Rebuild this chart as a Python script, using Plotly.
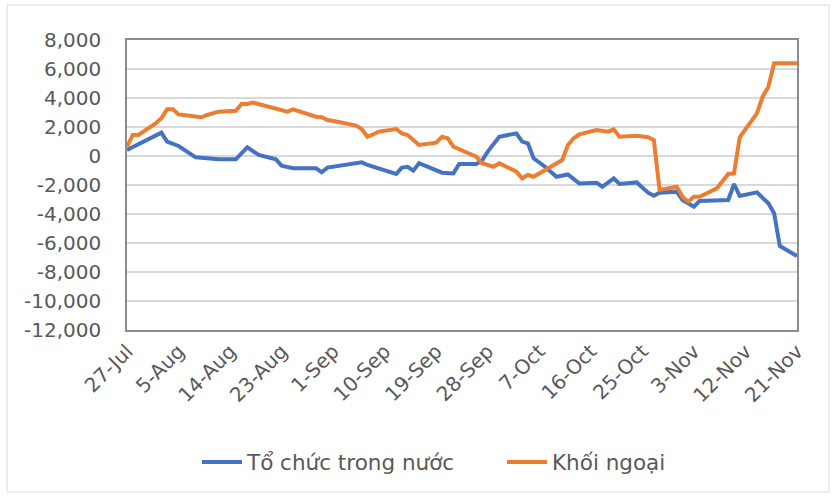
import plotly.graph_objects as go

# Domestic institutions (Tổ chức trong nước)
dates_domestic = [
    "2022-07-27", "2022-08-02", "2022-08-03", "2022-08-05", "2022-08-08", "2022-08-12",
    "2022-08-15", "2022-08-17", "2022-08-19", "2022-08-22", "2022-08-23", "2022-08-25",
    "2022-08-29", "2022-08-30", "2022-08-31", "2022-09-02", "2022-09-05", "2022-09-06",
    "2022-09-07", "2022-09-12", "2022-09-13", "2022-09-14", "2022-09-15", "2022-09-16",
    "2022-09-20", "2022-09-22", "2022-09-23", "2022-09-26", "2022-09-27", "2022-09-28",
    "2022-09-30", "2022-10-03", "2022-10-04", "2022-10-05", "2022-10-06", "2022-10-08",
    "2022-10-10", "2022-10-12", "2022-10-14", "2022-10-17", "2022-10-18", "2022-10-20",
    "2022-10-21", "2022-10-24", "2022-10-26", "2022-10-27", "2022-10-28", "2022-10-31",
    "2022-11-01", "2022-11-03", "2022-11-04", "2022-11-09", "2022-11-10", "2022-11-11",
    "2022-11-14", "2022-11-16", "2022-11-17", "2022-11-18", "2022-11-21",
]
values_domestic = [
    410, 1610, 990, 690, -90, -230,
    -230, 600, 70, -230, -670, -850,
    -850, -1120, -800, -690, -550, -440,
    -620, -1240, -800, -740, -1010, -500,
    -1150, -1200, -550, -550, -320, 300,
    1330, 1560, 990, 870, -160, -740,
    -1430, -1270, -1900, -1840, -2120, -1540,
    -1930, -1820, -2530, -2740, -2530, -2460,
    -3030, -3500, -3100, -3030, -1930, -2760,
    -2510, -3260, -3950, -6210, -6900,
]

# Foreign investors (Khối ngoại)
dates_foreign = [
    "2022-07-27", "2022-07-28", "2022-07-29", "2022-08-01", "2022-08-02", "2022-08-03",
    "2022-08-04", "2022-08-05", "2022-08-09", "2022-08-10", "2022-08-12", "2022-08-15",
    "2022-08-16", "2022-08-17", "2022-08-18", "2022-08-24", "2022-08-25", "2022-08-29",
    "2022-08-30", "2022-08-31", "2022-09-02", "2022-09-05", "2022-09-06", "2022-09-07",
    "2022-09-09", "2022-09-12", "2022-09-13", "2022-09-14", "2022-09-16", "2022-09-19",
    "2022-09-20", "2022-09-21", "2022-09-22", "2022-09-26", "2022-09-27", "2022-09-29",
    "2022-09-30", "2022-10-03", "2022-10-04", "2022-10-05", "2022-10-06", "2022-10-08",
    "2022-10-10", "2022-10-11", "2022-10-12", "2022-10-13", "2022-10-14", "2022-10-17",
    "2022-10-19", "2022-10-20", "2022-10-21", "2022-10-24", "2022-10-26", "2022-10-27",
    "2022-10-28", "2022-10-31", "2022-11-01", "2022-11-02", "2022-11-03", "2022-11-04",
    "2022-11-07", "2022-11-09", "2022-11-10", "2022-11-11", "2022-11-14", "2022-11-15",
    "2022-11-16", "2022-11-17", "2022-11-21",
]
values_foreign = [
    640, 1450, 1450, 2250, 2600, 3220,
    3220, 2870, 2670, 2830, 3060, 3120,
    3590, 3590, 3680, 3060, 3220, 2710,
    2670, 2480, 2350, 2100, 1850, 1330,
    1680, 1860, 1560, 1450, 760, 920,
    1330, 1220, 640, -50, -500, -740,
    -500, -1080, -1540, -1310, -1430, -970,
    -480, -280, 760, 1220, 1500, 1790,
    1680, 1840, 1330, 1400, 1290, 1100,
    -2340, -2120, -2810, -3150, -2810, -2810,
    -2230, -1240, -1200, 1290, 2940, 4090,
    4780, 6390, 6390,
]

tick_dates = [
    "2022-07-27", "2022-08-05", "2022-08-14", "2022-08-23", "2022-09-01", "2022-09-10",
    "2022-09-19", "2022-09-28", "2022-10-07", "2022-10-16", "2022-10-25", "2022-11-03",
    "2022-11-12", "2022-11-21",
]
tick_labels = [
    "27-Jul", "5-Aug", "14-Aug", "23-Aug", "1-Sep", "10-Sep", "19-Sep", "28-Sep",
    "7-Oct", "16-Oct", "25-Oct", "3-Nov", "12-Nov", "21-Nov",
]
y_ticks = [-12000, -10000, -8000, -6000, -4000, -2000, 0, 2000, 4000, 6000, 8000]
y_tick_labels = ["-12,000", "-10,000", "-8,000", "-6,000", "-4,000", "-2,000",
                 "0", "2,000", "4,000", "6,000", "8,000"]

series_names = ["Tổ chức trong nước", "Khối ngoại"]

FONT = "DejaVu Sans"
TEXT = "#595959"

fig = go.Figure()
fig.add_trace(go.Scatter(
    x=dates_domestic, y=values_domestic, mode="lines", name=series_names[0],
    line=dict(color="#4472C4", width=4),
))
fig.add_trace(go.Scatter(
    x=dates_foreign, y=values_foreign, mode="lines", name=series_names[1],
    line=dict(color="#ED7D31", width=4),
))

W, H = 836, 496
L, R, T, B = 127, 39, 40, 166
pw, ph = W - L - R, H - T - B

def px_x(p):
    return (p - L) / pw

def px_y(p):
    return (H - B - p) / ph

fig.update_layout(
    width=W, height=H,
    margin=dict(l=L, r=R, t=T, b=B, autoexpand=False),
    paper_bgcolor="white", plot_bgcolor="white",
    font=dict(family=FONT, size=20, color=TEXT),
    showlegend=True,
    legend=dict(
        orientation="h", x=px_x(197), xanchor="left", y=px_y(462), yanchor="middle",
        font=dict(family=FONT, size=21.5, color=TEXT), itemwidth=40,
        entrywidth=250, entrywidthmode="pixels",
    ),
    xaxis=dict(
        type="date", range=["2022-07-27", "2022-11-21"], automargin=False,
        tickvals=tick_dates, ticktext=tick_labels, tickangle=-45,
        showgrid=False, zeroline=False,
        showline=True, linecolor="#8c8c8c", linewidth=1.5, mirror=True,
        ticks="", tickfont=dict(family=FONT, size=20, color=TEXT),
    ),
    yaxis=dict(
        range=[-12000, 8000], tickvals=y_ticks, ticktext=y_tick_labels, automargin=False,
        showgrid=True, gridcolor="#d9d9d9", gridwidth=1.5, zeroline=False,
        showline=True, linecolor="#8c8c8c", linewidth=1.5, mirror=True,
        ticks="", ticklabelstandoff=20, tickfont=dict(family=FONT, size=20, color=TEXT),
    ),
    shapes=[dict(
        type="rect", xref="paper", yref="paper",
        x0=px_x(7), x1=px_x(829), y0=px_y(492), y1=px_y(5),
        line=dict(color="#d9d9d9", width=1), layer="below",
    )],
)

fig.write_html("out.html", config={"displayModeBar": False},
               post_script="document.body.style.margin='0';")
